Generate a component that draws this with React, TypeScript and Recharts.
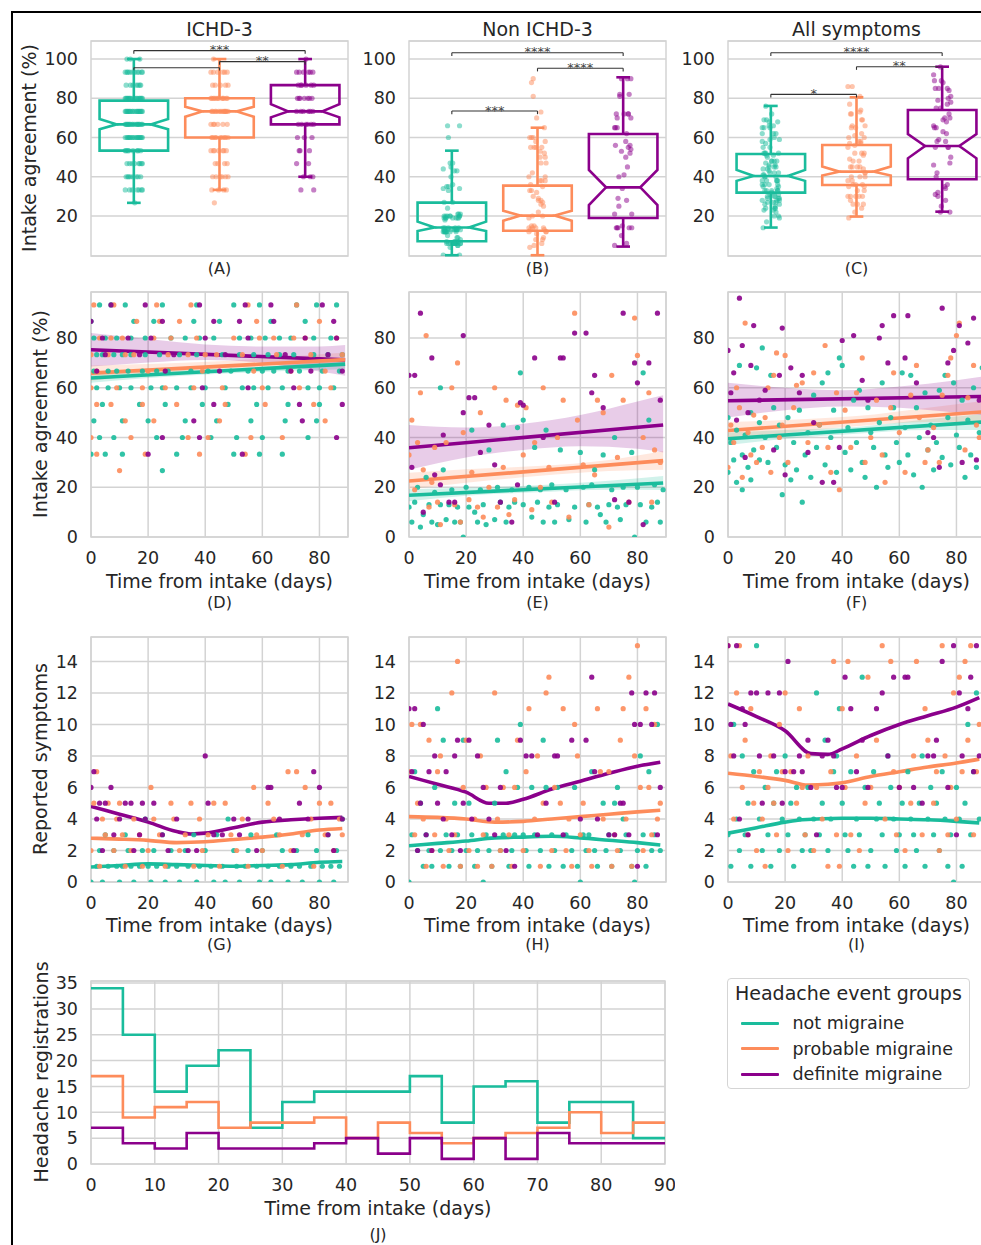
import {
  ComposedChart, Scatter, Line, Area, XAxis, YAxis, CartesianGrid,
  ReferenceArea, ReferenceLine, ReferenceDot,
} from 'recharts';

type Pt = [number, number];
type Band = [number, number, number];

const GROUPS = ['not migraine', 'probable migraine', 'definite migraine'];
const COLORS = ['#1abc9c', '#fd8c5b', '#8b008b'];
const COLUMN_TITLES = ['ICHD-3', 'Non ICHD-3', 'All symptoms'];

// intake agreement (%) per headache event: [day, agreement]
const ICHD_NOT_AGREE: Pt[] = [
  [3,93.3],[7,93.3],[12,93.3],[25,93.3],[37,93.3],[50,93.3],[59,93.3],[72,93.3],[79,93.3],[86,93.3],
  [0,86.7],[15,86.7],[22,86.7],[36,86.7],[45,86.7],[63,86.7],[75,86.7],
  [1,80],[9,80],[19,80],[28,80],[43,80],[52,80],[61,80],[70,80],[84,80],[5,80],[14,80],[33,80],[38,80],[56,80],[66,80],[78,80],
  [2,73.3],[8,73.3],[14,73.3],[24,73.3],[31,73.3],[46,73.3],[57,73.3],[66,73.3],[78,73.3],[88,73.3],[4,73.3],[11,73.3],[19,73.3],[37,73.3],[52,73.3],[62,73.3],[71,73.3],[83,73.3],
  [1,66.7],[6,66.7],[13,66.7],[18,66.7],[27,66.7],[35,66.7],[49,66.7],[55,66.7],[64,66.7],[73,66.7],[81,66.7],[87,66.7],[9,66.7],[23,66.7],[41,66.7],[60,66.7],[69,66.7],
  [2,60],[6,60],[10,60],[21,60],[30,60],[40,60],[47,60],[53,60],[62,60],[67,60],[76,60],[85,60],[14,60],[25,60],[35,60],[57,60],[80,60],
  [4,53.3],[17,53.3],[26,53.3],[39,53.3],[48,53.3],[58,53.3],[69,53.3],[80,53.3],
  [1,46.7],[11,46.7],[20,46.7],[33,46.7],[44,46.7],[56,46.7],[68,46.7],[79,46.7],
  [3,40],[8,40],[23,40],[32,40],[42,40],[51,40],[60,40],[76,40],
  [0,33.3],[5,33.3],[11,33.3],[30,33.3],[50,33.3],[59,33.3],[67,33.3],
  [25,26.7],[5,100],[16,100],[44,100],
];
const ICHD_PROB_AGREE: Pt[] = [
  [1,93.3],[8,93.3],[23,93.3],[35,93.3],[55,93.3],[72,93.3],
  [16,86.7],[24,86.7],[31,86.7],[58,86.7],[80,86.7],
  [3,80],[11,80],[22,80],[37,80],[50,80],[59,80],[71,80],[75,80],[86,80],[7,80],[28,80],[64,80],
  [0,73.3],[6,73.3],[15,73.3],[27,73.3],[34,73.3],[44,73.3],[53,73.3],[65,73.3],[77,73.3],[88,73.3],[12,73.3],[40,73.3],
  [2,66.7],[20,66.7],[39,66.7],[57,66.7],[70,66.7],[82,66.7],
  [0,60],[9,60],[18,60],[26,60],[36,60],[46,60],[60,60],[73,60],[84,60],
  [2,53.3],[7,53.3],[18,53.3],[30,53.3],[47,53.3],[61,53.3],[78,53.3],
  [12,46.7],[22,46.7],[45,46.7],[82,46.7],
  [0,40],[14,40],[34,40],[41,40],[56,40],[67,40],
  [2,33.3],[19,33.3],[38,33.3],[54,33.3],
  [10,26.7],[48,100],
];
const ICHD_DEF_AGREE: Pt[] = [
  [7,93.3],[19,93.3],[38,93.3],[54,93.3],[63,93.3],[81,93.3],
  [0,86.7],[25,86.7],[43,86.7],[52,86.7],[64,86.7],[85,86.7],
  [4,80],[13,80],[21,80],[40,80],[55,80],[75,80],[86,80],
  [5,73.3],[17,73.3],[29,73.3],[47,73.3],[68,73.3],[83,73.3],
  [2,66.7],[26,66.7],[45,66.7],[70,66.7],[77,66.7],[88,66.7],
  [39,60],[55,60],[71,60],
  [43,53.3],[73,53.3],[88,53.3],
  [36,46.7],[74,46.7],
  [25,40],[38,40],[86,40],
  [20,33.3],[53,33.3],[61,100],
];
const NON_NOT_AGREE: Pt[] = [
  [0,12],[1,6],[2,14],[3,20],[4,4],[5,9],[6,24],[7,13],[8,6],[9,18],[10,5],[11,60],[11,13],[12,27],[13,7],[14,13],
  [15,19],[16,6],[17,12],[18,6],[19,0],[20,20],[21,12],[22,43],[23,10],[24,6],[25,19],[26,13],[27,5],[28,35],[30,7],
  [31,20],[32,14],[33,45],[34,6],[35,12],[36,19],[37,14],[38,44],[39,66],[40,47],[40,13],[42,20],[43,8],[44,36],[45,14],
  [46,19],[47,6],[48,43],[49,12],[50,21],[51,6],[52,13],[53,35],[55,19],[56,7],[58,12],[60,34],[61,20],[62,6],[63,13],
  [64,21],[65,27],[66,12],[67,9],[68,33],[69,6],[70,13],[71,19],[72,40],[73,12],[74,7],[75,20],[76,13],[78,34],[79,0],
  [80,20],[81,13],[82,66],[83,6],[84,47],[85,12],[86,21],[87,14],[88,6],[89,19],
];
const NON_PROB_AGREE: Pt[] = [
  [0,33],[1,47],[2,19],[3,38],[4,58],[5,27],[6,81],[7,12],[8,22],[9,36],[10,14],[11,5],[13,38],[15,60],[16,13],[17,70],
  [18,6],[19,42],[21,15],[22,26],[24,12],[25,50],[26,8],[28,20],[30,60],[31,12],[33,28],[34,55],[35,9],[37,15],[38,53],
  [40,33],[41,52],[43,11],[44,38],[46,20],[47,60],[49,28],[50,14],[52,40],[54,55],[56,8],[58,90],[59,47],[61,29],[63,13],
  [65,25],[66,55],[68,50],[70,4],[71,65],[73,32],[75,55],[77,14],[79,88],[80,73],[82,40],[84,58],[85,14],[86,35],[88,30],
];
const NON_DEF_AGREE: Pt[] = [
  [0,65],[1,28],[2,65],[4,90],[5,10],[8,72],[9,25],[11,21],[12,41],[14,14],[16,14],[19,81],[19,50],[21,56],[23,56],
  [25,34],[28,45],[30,29],[32,14],[36,6],[38,21],[39,54],[40,53],[44,72],[47,40],[51,14],[53,72],[54,72],[58,82],
  [62,82],[64,58],[65,65],[68,52],[72,15],[75,90],[77,14],[79,70],[80,62],[82,5],[84,70],[87,90],[88,55],
];
const ALL_NOT_AGREE: Pt[] = [
  [0,26],[0,48],[1,38],[2,31],[3,43],[3,22],[4,69],[5,19],[5,33],[6,41],[7,28],[8,50],[8,23],[9,35],[10,68],[11,31],
  [11,46],[12,76],[13,40],[14,30],[15,65],[16,52],[17,36],[18,45],[19,17],[20,29],[21,48],[22,23],[23,38],[24,27],
  [25,51],[26,14],[27,33],[28,42],[29,24],[30,57],[31,36],[32,45],[33,62],[34,29],[35,66],[36,40],[37,51],[38,26],
  [39,72],[40,69],[41,34],[42,44],[43,27],[44,55],[45,38],[46,59],[47,30],[48,24],[49,52],[50,42],[51,36],[52,20],
  [53,46],[54,62],[55,33],[56,28],[57,48],[58,52],[59,38],[60,30],[61,66],[62,44],[63,33],[64,65],[65,25],[66,52],
  [67,40],[68,20],[69,58],[70,35],[71,45],[72,27],[73,38],[74,59],[75,32],[76,65],[77,48],[78,29],[79,62],[80,41],
  [81,36],[82,55],[83,24],[84,47],[85,33],[86,60],[87,28],[88,42],[89,68],
];
const ALL_PROB_AGREE: Pt[] = [
  [0,28],[1,45],[2,38],[3,60],[4,52],[5,24],[6,86],[7,42],[8,33],[9,49],[10,30],[12,36],[13,48],[14,60],[15,26],
  [16,65],[17,74],[18,40],[19,45],[20,73],[21,30],[23,52],[24,61],[26,62],[28,38],[30,66],[32,45],[34,77],[35,36],
  [36,26],[38,58],[39,19],[41,51],[43,36],[45,58],[47,72],[48,30],[50,40],[52,55],[54,33],[55,22],[57,52],[58,66],
  [60,42],[62,26],[64,57],[66,69],[67,48],[69,30],[70,35],[72,44],[74,30],[75,57],[77,65],[78,72],[80,81],[81,86],
  [83,35],[84,56],[86,69],[87,45],[88,40],
];
const ALL_DEF_AGREE: Pt[] = [
  [0,75],[1,58],[2,66],[3,47],[4,96],[5,77],[6,32],[7,50],[8,69],[9,85],[11,55],[13,59],[16,35],[18,65],[19,84],
  [20,25],[22,68],[25,58],[26,65],[28,34],[30,46],[33,22],[37,22],[39,36],[40,79],[44,81],[47,63],[49,55],[53,80],
  [54,85],[56,70],[58,89],[62,72],[63,89],[66,62],[70,42],[72,40],[74,28],[75,92],[77,70],[79,75],[81,85],[82,30],
  [84,78],[86,88],[87,31],[88,55],
];

const ICHD_BOX = [[26.7,53.3,64.2,66.7,69.4,78.8,100],[33.3,60,70.6,73.3,75.7,80,100],[40,66.7,70.3,73.3,77,86.7,100]];
const NON_BOX = [[0,7.1,12.3,14.1,17.1,26.8,53.3],[0,12.5,17.6,20.2,22.7,35.5,65],[4.4,19,25.6,34.6,43.5,61.8,90.7]];
const ALL_BOX = [[14.1,31.9,37.9,40.4,43.5,51.6,76.1],[19.7,35.8,40.6,42.6,45.2,56.2,80.5],[22.2,38.7,49.4,55.7,61.8,74,96.1]];

// significance brackets: [from group, to group, height, stars]
const ICHD_SIG: [number, number, number, string][] = [[0,2,104.3,'***'],[1,2,98.7,'**'],[0,1,95.6,'']];
const NON_SIG: [number, number, number, string][] = [[0,2,103.2,'****'],[1,2,95.3,'****'],[0,1,73.5,'***']];
const ALL_SIG: [number, number, number, string][] = [[0,2,103.2,'****'],[1,2,96.1,'**'],[0,1,82,'*']];

// linear fits and 95% CI (panels D-F)
const ICHD_FIT: Pt[][] = [[[0,63.9],[89,69.5]],[[0,65.9],[89,71.3]],[[0,75.3],[89,71.2]]];
const NON_FIT: Pt[][] = [[[0,16.8],[89,21.7]],[[0,22.5],[89,30.7]],[[0,35.9],[89,45]]];
const ALL_FIT: Pt[][] = [[[0,39.5],[89,46.2]],[[0,42.8],[89,50.3]],[[0,54.8],[89,56.5]]];
const ICHD_CI: Band[][] = [
  [[0,62,65.8],[20,63.9,66.6],[45,65.6,67.6],[70,66.8,69.4],[89,67.4,71.6]],
  [[0,62.8,69],[20,65.2,69.6],[45,67.5,70.7],[70,68.6,72.6],[89,68.6,74.2]],
  [[0,68.5,82],[20,70.2,79.6],[40,71.2,77.4],[60,70,76.6],[80,66.5,76.6],[89,64.8,77.2]],
];
const NON_CI: Band[][] = [
  [[0,14.4,19.2],[20,16.6,19.8],[45,18,20.8],[70,19,22.6],[89,18.9,24.5]],
  [[0,19.2,25.8],[20,21.8,27.2],[45,24.5,28.5],[70,26.5,31],[89,27,34.6]],
  [[0,27,45],[20,32,44],[40,35,45.5],[60,36.5,49],[80,35.5,54.5],[89,34,57]],
];
const ALL_CI: Band[][] = [
  [[0,37,42],[20,39.4,43],[45,41.5,44.2],[70,43,47.3],[89,43,49.4]],
  [[0,39.5,46.2],[20,41.8,47],[45,44.5,48.6],[70,46.2,52],[89,46,54.6]],
  [[0,48,62],[20,51,60],[40,52.5,59],[60,52,60.5],[80,50,63],[89,49,64.5]],
];

// reported symptoms per event: [day, count]
const ICHD_NOT_SYM: Pt[] = [
  [0,0],[2,1],[3,2],[4,0],[5,3],[6,1],[8,2],[9,1],[10,0],[11,1],[12,3],[13,2],[14,1],[15,0],[17,1],[18,2],[19,4],[20,1],
  [21,0],[22,2],[23,1],[25,3],[26,0],[27,1],[28,2],[30,1],[31,0],[33,2],[34,1],[36,3],[37,0],[38,1],[40,2],[42,1],[43,0],
  [44,3],[46,1],[47,0],[48,4],[50,2],[51,1],[52,0],[54,1],[55,2],[56,3],[58,1],[59,0],[60,2],[62,1],[63,0],[65,3],[66,1],
  [67,2],[69,0],[70,1],[72,2],[73,1],[74,0],[76,3],[77,1],[79,2],[80,0],[81,1],[83,3],[84,1],[85,0],[86,2],[87,1],[88,4],
];
const ICHD_PROB_SYM: Pt[] = [
  [0,2],[1,5],[2,7],[3,1],[4,4],[5,3],[6,5],[8,2],[9,4],[10,5],[11,3],[12,1],[14,2],[15,4],[17,3],[18,1],[20,2],[21,6],
  [22,4],[24,3],[26,1],[28,5],[29,4],[31,2],[33,3],[35,5],[36,1],[38,4],[39,2],[41,3],[43,5],[45,1],[47,5],[49,3],[51,2],
  [53,4],[55,1],[57,6],[58,3],[60,2],[62,5],[64,4],[66,3],[67,1],[69,7],[70,2],[72,7],[74,3],[75,6],[77,4],[78,1],[80,5],
  [82,3],[84,5],[85,2],[87,4],[88,3],
];
const ICHD_DEF_SYM: Pt[] = [
  [0,6],[1,7],[2,4],[3,5],[4,2],[5,5],[7,6],[8,3],[10,4],[12,5],[14,5],[15,2],[17,3],[18,5],[19,4],[22,5],[25,3],[27,2],
  [30,4],[34,2],[37,2],[40,8],[41,5],[43,3],[46,3],[50,4],[52,3],[55,4],[58,2],[62,6],[63,6],[66,4],[71,2],[73,5],[76,4],
  [78,7],[80,6],[83,3],[85,2],[88,4],
];
const NON_NOT_SYM: Pt[] = [
  [0,0],[1,3],[2,7],[3,2],[4,5],[5,1],[6,3],[7,2],[8,1],[9,6],[10,11],[11,2],[12,9],[13,3],[14,1],[15,2],[16,5],[17,3],
  [18,1],[19,9],[20,2],[21,5],[22,3],[23,1],[24,2],[26,0],[27,3],[28,2],[29,1],[30,5],[31,9],[32,2],[33,3],[34,7],[35,1],
  [36,2],[37,3],[38,6],[39,10],[40,3],[41,2],[42,1],[43,6],[44,3],[46,2],[47,9],[48,6],[49,1],[50,3],[51,2],[52,6],[54,1],
  [55,3],[57,2],[58,6],[59,1],[60,0],[61,3],[62,2],[63,3],[64,7],[65,2],[66,1],[68,5],[69,2],[70,3],[71,1],[72,5],[73,6],
  [74,2],[75,4],[76,3],[78,1],[79,0],[80,2],[81,8],[82,3],[83,1],[84,7],[85,2],[86,3],[87,10],[88,2],
];
const NON_PROB_SYM: Pt[] = [
  [0,7],[1,10],[2,3],[3,5],[4,10],[5,4],[6,1],[7,9],[8,2],[9,3],[10,7],[11,8],[12,1],[13,4],[14,2],[15,12],[16,3],[17,14],
  [18,1],[19,6],[20,9],[21,2],[23,4],[24,1],[25,8],[26,3],[27,6],[29,1],[30,12],[31,4],[32,2],[33,6],[35,3],[36,1],[37,6],
  [38,9],[40,2],[41,7],[42,11],[44,4],[45,8],[46,1],[47,5],[48,12],[49,13],[50,2],[51,6],[53,5],[54,11],[55,2],[56,4],
  [57,1],[58,10],[59,8],[60,3],[61,5],[63,2],[64,1],[66,11],[67,7],[68,4],[70,7],[71,1],[72,3],[73,2],[74,9],[75,11],
  [76,4],[77,13],[78,1],[79,8],[80,15],[81,6],[82,2],[83,11],[84,6],[85,3],[86,10],[87,4],[88,5],
];
const NON_DEF_SYM: Pt[] = [
  [0,11],[1,7],[2,11],[3,2],[4,5],[5,10],[6,3],[7,7],[8,2],[9,8],[10,5],[12,4],[13,7],[15,3],[16,8],[17,9],[18,2],[19,5],
  [21,9],[22,4],[24,8],[26,6],[28,4],[30,3],[32,6],[34,2],[37,1],[39,9],[41,8],[43,8],[45,3],[48,5],[51,8],[52,8],[54,3],
  [57,9],[60,4],[62,9],[64,13],[65,7],[66,4],[70,3],[72,3],[74,5],[75,5],[77,3],[78,12],[79,10],[80,1],[81,10],[83,12],
  [85,10],[86,12],[87,3],[88,6],
];
const ALL_NOT_SYM: Pt[] = [
  [0,3],[1,1],[2,10],[3,4],[4,2],[5,8],[6,3],[7,5],[8,1],[9,7],[10,15],[11,4],[12,2],[13,6],[14,3],[15,1],[16,5],[17,7],
  [18,2],[19,4],[20,8],[21,3],[22,5],[23,1],[24,6],[25,4],[26,2],[27,3],[28,6],[29,2],[30,4],[31,12],[32,3],[33,5],[34,9],
  [35,2],[36,4],[37,7],[38,8],[39,11],[40,5],[41,3],[42,2],[43,7],[44,1],[45,4],[46,3],[47,13],[48,6],[49,1],[50,2],[51,7],
  [52,4],[53,5],[54,3],[55,1],[56,8],[57,6],[58,4],[59,2],[60,3],[61,5],[62,1],[63,7],[64,4],[65,3],[66,2],[67,5],[68,8],
  [69,1],[70,4],[71,6],[72,3],[73,5],[74,2],[75,7],[76,4],[77,1],[78,3],[79,0],[80,6],[81,4],[82,1],[83,5],[84,10],[85,3],
  [86,7],[87,12],[88,4],
];
const ALL_PROB_SYM: Pt[] = [
  [0,15],[1,8],[2,4],[3,12],[4,15],[5,6],[6,9],[7,3],[8,11],[9,5],[10,2],[11,7],[12,4],[13,1],[14,6],[15,8],[16,5],[17,3],
  [18,10],[19,7],[20,12],[21,2],[22,7],[24,5],[25,11],[26,6],[27,3],[28,8],[30,2],[31,6],[33,4],[35,1],[36,7],[37,14],
  [38,3],[39,1],[40,11],[41,6],[42,14],[43,3],[45,8],[46,2],[48,5],[49,13],[50,6],[52,9],[54,15],[55,4],[57,14],[58,7],
  [59,3],[60,6],[62,2],[64,5],[65,8],[66,14],[68,3],[69,11],[70,9],[72,5],[73,7],[74,2],[75,15],[76,8],[77,3],[78,6],
  [79,12],[80,4],[81,13],[82,7],[83,14],[84,9],[85,15],[86,3],[87,7],[88,10],
];
const ALL_DEF_SYM: Pt[] = [
  [0,15],[1,10],[2,8],[3,15],[4,4],[5,11],[6,10],[7,3],[8,12],[10,12],[11,8],[12,5],[14,12],[16,8],[18,12],[19,5],[20,7],
  [21,14],[23,7],[25,8],[26,7],[28,9],[29,6],[31,3],[33,8],[35,9],[37,8],[38,6],[40,6],[41,13],[43,11],[45,7],[47,9],
  [49,6],[52,11],[54,12],[56,8],[58,13],[60,6],[62,13],[63,13],[65,6],[68,5],[70,8],[72,8],[73,9],[75,14],[77,6],[79,15],
  [80,3],[81,12],[82,8],[84,11],[85,13],[86,7],[87,15],[88,8],
];

// lowess curves (panels G-I)
const ICHD_SMOOTH: Pt[][] = [
  [[0,0.95],[10,1.05],[20,1.15],[30,1.1],[40,1.05],[50,1.0],[60,1.05],[70,1.1],[80,1.25],[88,1.3]],
  [[0,2.78],[10,2.72],[20,2.64],[30,2.5],[40,2.55],[50,2.7],[60,2.85],[70,3.05],[80,3.3],[88,3.4]],
  [[0,4.8],[10,4.3],[20,3.8],[30,3.2],[35,3.05],[40,3.1],[50,3.45],[60,3.8],[70,3.95],[80,4.05],[88,4.1]],
];
const NON_SMOOTH: Pt[][] = [
  [[0,2.3],[10,2.45],[20,2.6],[30,2.8],[40,2.85],[50,2.9],[60,2.8],[70,2.65],[80,2.5],[88,2.35]],
  [[0,4.15],[10,4.1],[20,4.0],[30,3.8],[40,3.85],[50,4.0],[60,4.15],[70,4.3],[80,4.45],[88,4.55]],
  [[0,6.7],[10,6.2],[20,5.7],[28,5.0],[34,5.0],[40,5.25],[50,5.9],[60,6.4],[70,6.9],[80,7.35],[88,7.6]],
];
const ALL_SMOOTH: Pt[][] = [
  [[0,3.1],[10,3.45],[20,3.8],[26,3.95],[40,4.05],[50,4.05],[60,4.0],[70,3.95],[80,3.85],[88,3.75]],
  [[0,6.9],[10,6.7],[20,6.45],[28,6.15],[35,6.2],[40,6.3],[50,6.7],[60,7.0],[70,7.3],[80,7.55],[88,7.8]],
  [[0,11.3],[10,10.5],[20,9.6],[29,8.15],[35,8.1],[40,8.45],[50,9.3],[60,10.0],[70,10.55],[80,11.1],[88,11.7]],
];

// headache registrations per 5-day bin (panel J)
const BIN_EDGES = [0,5,10,15,20,25,30,35,40,45,50,55,60,65,70,75,80,85,90];
const NOT_COUNTS = [34,25,14,19,22,7,12,14,14,14,17,8,15,16,8,12,12,5];
const PROB_COUNTS = [17,9,11,12,7,8,8,9,5,8,6,4,5,6,7,10,6,8];
const DEF_COUNTS = [7,4,3,6,3,3,3,4,5,2,5,1,5,1,6,4,4,4];

const AGREE = [
  [ICHD_NOT_AGREE, ICHD_PROB_AGREE, ICHD_DEF_AGREE],
  [NON_NOT_AGREE, NON_PROB_AGREE, NON_DEF_AGREE],
  [ALL_NOT_AGREE, ALL_PROB_AGREE, ALL_DEF_AGREE],
];
const SYM = [
  [ICHD_NOT_SYM, ICHD_PROB_SYM, ICHD_DEF_SYM],
  [NON_NOT_SYM, NON_PROB_SYM, NON_DEF_SYM],
  [ALL_NOT_SYM, ALL_PROB_SYM, ALL_DEF_SYM],
];
const BOXES = [ICHD_BOX, NON_BOX, ALL_BOX];
const SIGS = [ICHD_SIG, NON_SIG, ALL_SIG];
const FITS = [ICHD_FIT, NON_FIT, ALL_FIT];
const CIS = [ICHD_CI, NON_CI, ALL_CI];
const SMOOTHS = [ICHD_SMOOTH, NON_SMOOTH, ALL_SMOOTH];
const COUNTS = [NOT_COUNTS, PROB_COUNTS, DEF_COUNTS];

const FONT = '"DejaVu Sans", sans-serif';
const INK = '#262626';
const GRID = '#d3d3d3';
const TICK = { fontSize: 17.5, fill: INK, fontFamily: FONT };
const JIT = [-0.07, 0.04, -0.1, 0.09, -0.02, 0.06, -0.05, 0.1, 0.01, -0.08, 0.07, -0.04, 0.03, -0.09, 0.08, -0.01, 0.05, -0.06];

const COL_LEFT = [91, 409, 728];
const PW = 257;
const YW = 60;
const MT = 10;
const MR = 10;
const XH = 42;

const toXY = (pts: Pt[]) => pts.map(([x, y]) => ({ x, y }));
const dot = (color: string, r: number, op: number) => (p: any) =>
  p.cx == null ? <g /> : <circle cx={p.cx} cy={p.cy} r={r} fill={color} fillOpacity={op} />;

function Frame({ left, top, h, w = PW, xDomain, xTicks, yDomain, yTicks, hideX = false, children }: any) {
  return (
    <div style={{ position: 'absolute', left: left - YW, top: top - MT }}>
      <ComposedChart
        width={YW + w + MR}
        height={MT + h + (hideX ? 2 : XH)}
        margin={{ top: MT, right: MR, bottom: hideX ? 2 : 0, left: 0 }}
      >
        <CartesianGrid stroke={GRID} strokeWidth={1.5} vertical={!hideX} />
        <XAxis type="number" dataKey="x" domain={xDomain} ticks={xTicks} hide={hideX} height={XH}
          allowDataOverflow axisLine={false} tickLine={false} tickSize={0} tickMargin={15} tick={TICK} interval={0} />
        <YAxis type="number" dataKey="y" domain={yDomain} ticks={yTicks} width={YW}
          allowDataOverflow axisLine={false} tickLine={false} tickSize={0} tickMargin={13} tick={TICK} interval={0} />
        <ReferenceArea x1={xDomain[0]} x2={xDomain[1]} y1={yDomain[0]} y2={yDomain[1]}
          fill="none" stroke={GRID} strokeWidth={1.5} fillOpacity={0} ifOverflow="visible" />
        {children}
      </ComposedChart>
    </div>
  );
}

function NotchBox(p: any, s: number[], color: string) {
  const { x, y, width, height } = p;
  const py = (v: number) => y + ((s[5] - v) / (s[5] - s[1])) * height;
  const l = x, r = x + width, nl = x + width * 0.25, nr = x + width * 0.75;
  const pts = [[l, py(s[1])], [r, py(s[1])], [r, py(s[2])], [nr, py(s[3])], [r, py(s[4])], [r, py(s[5])],
    [l, py(s[5])], [l, py(s[4])], [nl, py(s[3])], [l, py(s[2])]];
  return (
    <g>
      <polygon points={pts.map((q) => q.join(',')).join(' ')} fill="none" stroke={color} strokeWidth={2.6} />
      <line x1={nl} x2={nr} y1={py(s[3])} y2={py(s[3])} stroke={color} strokeWidth={2.6} />
    </g>
  );
}

function boxElements(col: number) {
  const els: any[] = [];
  BOXES[col].forEach((s, i) => {
    const c = COLORS[i];
    const seg = (k: string, a: any, b: any) => (
      <ReferenceLine key={`${k}${i}`} segment={[a, b]} stroke={c} strokeWidth={2.6} ifOverflow="visible" />
    );
    els.push(seg('wu', { x: i, y: s[5] }, { x: i, y: s[6] }));
    els.push(seg('wl', { x: i, y: s[1] }, { x: i, y: s[0] }));
    els.push(seg('cu', { x: i - 0.08, y: s[6] }, { x: i + 0.08, y: s[6] }));
    els.push(seg('cl', { x: i - 0.08, y: s[0] }, { x: i + 0.08, y: s[0] }));
    els.push(
      <ReferenceArea key={`box${i}`} x1={i - 0.4} x2={i + 0.4} y1={s[1]} y2={s[5]} ifOverflow="visible"
        shape={(p: any) => NotchBox(p, s, c)} />
    );
  });
  SIGS[col].forEach(([a, b, hgt, lab], k) => {
    const st = { stroke: '#333', strokeWidth: 1.1, ifOverflow: 'visible' as const };
    els.push(<ReferenceLine key={`sh${k}`} segment={[{ x: a, y: hgt }, { x: b, y: hgt }]} {...st} />);
    els.push(<ReferenceLine key={`sa${k}`} segment={[{ x: a, y: hgt }, { x: a, y: hgt - 1.6 }]} {...st} />);
    els.push(<ReferenceLine key={`sb${k}`} segment={[{ x: b, y: hgt }, { x: b, y: hgt - 1.6 }]} {...st} />);
    if (lab) {
      els.push(
        <ReferenceDot key={`sl${k}`} x={(a + b) / 2} y={hgt} ifOverflow="visible"
          shape={(p: any) => (
            <text x={p.cx} y={p.cy + 3.5} textAnchor="middle" fontSize={13} fill="#444" fontFamily={FONT}>{lab}</text>
          )} />
      );
    }
  });
  AGREE[col].forEach((pts, g) => {
    els.push(
      <Scatter key={`pts${g}`} name={GROUPS[g]} isAnimationActive={false}
        data={pts.map(([, v], k) => ({ x: g + JIT[k % JIT.length], y: v }))}
        shape={dot(COLORS[g], 2.6, 0.5)} />
    );
  });
  return els;
}

function trendElements(col: number) {
  const els: any[] = [];
  AGREE[col].forEach((pts, g) => {
    els.push(<Scatter key={`p${g}`} name={GROUPS[g]} data={toXY(pts)} isAnimationActive={false} shape={dot(COLORS[g], 2.6, 0.9)} />);
  });
  CIS[col].forEach((band, g) => {
    els.push(
      <Area key={`b${g}`} data={band.map(([x, lo, hi]) => ({ x, y: [lo, hi] }))} dataKey="y" type="monotone"
        stroke="none" fill={COLORS[g]} fillOpacity={0.2} isAnimationActive={false} />
    );
  });
  [2, 1, 0].forEach((g) => {
    els.push(
      <Line key={`l${g}`} data={toXY(FITS[col][g])} dataKey="y" type="linear" stroke={COLORS[g]}
        strokeWidth={3.6} dot={false} isAnimationActive={false} />
    );
  });
  return els;
}

function symptomElements(col: number) {
  const els: any[] = [];
  SYM[col].forEach((pts, g) => {
    els.push(<Scatter key={`p${g}`} name={GROUPS[g]} data={toXY(pts)} isAnimationActive={false} shape={dot(COLORS[g], 2.6, 0.9)} />);
  });
  [2, 1, 0].forEach((g) => {
    els.push(
      <Line key={`l${g}`} data={toXY(SMOOTHS[col][g])} dataKey="y" type="monotone" stroke={COLORS[g]}
        strokeWidth={3.6} dot={false} isAnimationActive={false} />
    );
  });
  return els;
}

function Txt({ x, y, size, text, rotate = false }: any) {
  return (
    <div style={{
      position: 'absolute', left: x, top: y, fontSize: size, lineHeight: 1, whiteSpace: 'nowrap',
      transform: `translate(-50%, -50%)${rotate ? ' rotate(-90deg)' : ''}`,
    }}>{text}</div>
  );
}

const DAY_TICKS = [0, 20, 40, 60, 80];

export default function App() {
  return (
    <div style={{
      position: 'absolute', left: 0, top: 0, width: 981, height: 1245, overflow: 'hidden',
      background: '#fff', fontFamily: FONT, color: INK,
    }}>
      <div style={{ position: 'absolute', left: 11, top: 11, width: 1100, height: 1400, border: '2px solid #000' }} />

      {COLUMN_TITLES.map((t, i) => <Txt key={t} x={COL_LEFT[i] + PW / 2} y={29} size={19} text={t} />)}

      {[0, 1, 2].map((c) => (
        <Frame key={`box${c}`} left={COL_LEFT[c]} top={41} h={215} xDomain={[-0.5, 2.5]} yDomain={[-0.4, 109.2]}
          yTicks={[20, 40, 60, 80, 100]} hideX>
          {boxElements(c)}
        </Frame>
      ))}
      {[0, 1, 2].map((c) => (
        <Frame key={`trend${c}`} left={COL_LEFT[c]} top={292} h={245} xDomain={[0, 90]} xTicks={DAY_TICKS}
          yDomain={[0, 98.5]} yTicks={[0, 20, 40, 60, 80]}>
          {trendElements(c)}
        </Frame>
      ))}
      {[0, 1, 2].map((c) => (
        <Frame key={`sym${c}`} left={COL_LEFT[c]} top={637} h={245} xDomain={[0, 90]} xTicks={DAY_TICKS}
          yDomain={[0, 15.55]} yTicks={[0, 2, 4, 6, 8, 10, 12, 14]}>
          {symptomElements(c)}
        </Frame>
      ))}
      <Frame left={91} top={981} h={183} w={574} xDomain={[0, 90]} xTicks={[0, 10, 20, 30, 40, 50, 60, 70, 80, 90]}
        yDomain={[0, 35.4]} yTicks={[0, 5, 10, 15, 20, 25, 30, 35]}>
        {COUNTS.map((cnt, g) => (
          <Line key={`h${g}`} name={GROUPS[g]} type="stepAfter" dataKey="y" stroke={COLORS[g]} strokeWidth={2.6}
            dot={false} isAnimationActive={false}
            data={BIN_EDGES.map((e, i) => ({ x: e, y: cnt[Math.min(i, cnt.length - 1)] }))} />
        ))}
      </Frame>

      {['(A)', '(B)', '(C)'].map((t, i) => <Txt key={t} x={COL_LEFT[i] + PW / 2} y={269} size={16} text={t} />)}
      {['(D)', '(E)', '(F)'].map((t, i) => <Txt key={t} x={COL_LEFT[i] + PW / 2} y={603} size={16} text={t} />)}
      {['(G)', '(H)', '(I)'].map((t, i) => <Txt key={t} x={COL_LEFT[i] + PW / 2} y={945} size={16} text={t} />)}
      {[0, 1, 2].map((i) => <Txt key={`xa${i}`} x={COL_LEFT[i] + PW / 2} y={581} size={19} text="Time from intake (days)" />)}
      {[0, 1, 2].map((i) => <Txt key={`xb${i}`} x={COL_LEFT[i] + PW / 2} y={925} size={19} text="Time from intake (days)" />)}
      <Txt x={378} y={1208} size={19} text="Time from intake (days)" />
      <Txt x={378} y={1235} size={16} text="(J)" />

      <Txt x={29} y={148} size={19} text="Intake agreement (%)" rotate />
      <Txt x={40} y={414} size={19} text="Intake agreement (%)" rotate />
      <Txt x={40} y={759} size={19} text="Reported symptoms" rotate />
      <Txt x={41} y={1072} size={19} text="Headache registrations" rotate />

      <div style={{
        position: 'absolute', left: 727, top: 978, width: 243, height: 111, boxSizing: 'border-box',
        border: '1.5px solid #d5d5d5', borderRadius: 4,
      }}>
        <div style={{ position: 'absolute', left: 7, top: 5, fontSize: 19, lineHeight: '19px', whiteSpace: 'nowrap' }}>
          Headache event groups
        </div>
        {GROUPS.map((g, i) => (
          <div key={g} style={{ position: 'absolute', left: 0, top: 34 + i * 25.5, height: 20, width: 240 }}>
            <div style={{ position: 'absolute', left: 13, top: 8.5, width: 38, height: 3.2, background: COLORS[i], borderRadius: 1 }} />
            <div style={{ position: 'absolute', left: 64.5, top: 1, fontSize: 17.5, lineHeight: '18px', whiteSpace: 'nowrap' }}>{g}</div>
          </div>
        ))}
      </div>
    </div>
  );
}
